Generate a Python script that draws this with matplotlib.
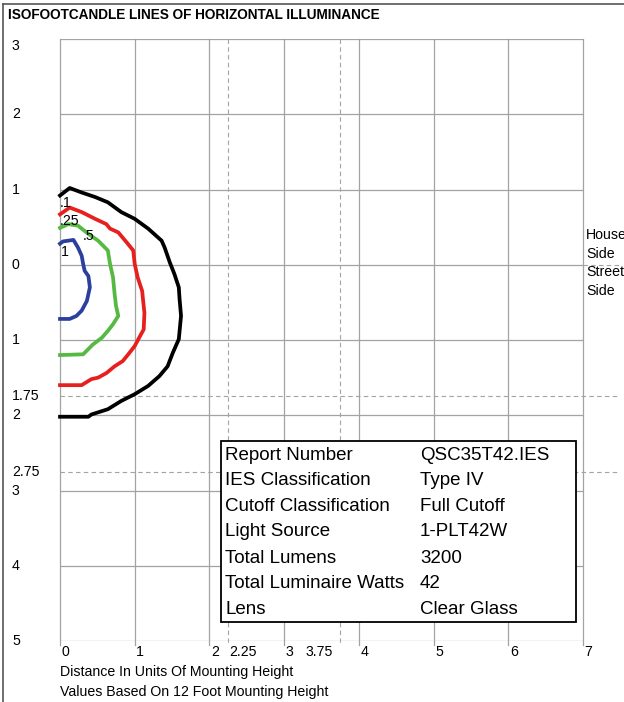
import matplotlib
matplotlib.use('Agg')
import matplotlib.pyplot as plt
from matplotlib.patches import Rectangle
from matplotlib.transforms import blended_transform_factory

plt.rcParams['font.family'] = ['Liberation Sans', 'DejaVu Sans']

# 등조도 곡선 데이터 (x: 거리, y: 위쪽이 House side(음수), 아래쪽이 Street side(양수))
black_x = [0, 0.13, 0.29, 0.47, 0.64, 0.82, 1.0, 1.18, 1.36, 1.40, 1.47, 1.53, 1.59, 1.60,
           1.62, 1.59, 1.51, 1.44, 1.33, 1.18, 1.0, 0.82, 0.64, 0.42, 0.38, 0]
black_y = [-0.92, -1.02, -0.96, -0.90, -0.83, -0.70, -0.61, -0.48, -0.32, -0.23, -0.03, 0.12,
           0.30, 0.45, 0.68, 0.99, 1.17, 1.35, 1.48, 1.61, 1.72, 1.81, 1.92, 1.99, 2.02, 2.02]
red_x = [0, 0.13, 0.29, 0.47, 0.62, 0.67, 0.78, 0.89, 0.98, 1.0, 1.04, 1.10, 1.11, 1.13,
         1.12, 1.07, 1.0, 0.93, 0.84, 0.73, 0.62, 0.51, 0.42, 0.29, 0]
red_y = [-0.67, -0.76, -0.70, -0.61, -0.54, -0.48, -0.43, -0.30, -0.19, -0.01, 0.17, 0.35,
         0.45, 0.64, 0.86, 0.95, 1.08, 1.17, 1.28, 1.35, 1.44, 1.50, 1.52, 1.60, 1.60]
green_x = [0, 0.11, 0.24, 0.38, 0.51, 0.64, 0.67, 0.71, 0.73, 0.75, 0.78, 0.71, 0.64, 0.56,
           0.44, 0.31, 0]
green_y = [-0.49, -0.54, -0.52, -0.41, -0.32, -0.19, -0.01, 0.17, 0.38, 0.55, 0.68, 0.79,
           0.88, 0.97, 1.06, 1.19, 1.20]
blue_x = [0, 0.04, 0.18, 0.24, 0.29, 0.31, 0.33, 0.38, 0.40, 0.36, 0.29, 0.22, 0.13, 0]
blue_y = [-0.28, -0.31, -0.33, -0.23, -0.12, -0.01, 0.08, 0.15, 0.30, 0.48, 0.61, 0.68,
          0.72, 0.72]

# 곡선 라벨 (값, 위치)
curve_labels = ['.1', '.25', '.5', '1']
curve_label_x = [0.0, 0.0, 0.30, 0.01]
curve_label_y = [-0.82, -0.58, -0.38, -0.17]

# 축 눈금
x_grid = [0, 1, 2, 3, 4, 5, 6, 7]
x_dash = [2.25, 3.75]
x_tick_vals = [0, 1, 2, 2.25, 3, 3.75, 4, 5, 6, 7]
x_tick_labels = ['0', '1', '2', '2.25', '3', '3.75', '4', '5', '6', '7']
y_grid = [-3, -2, -1, 0, 1, 2, 3, 4, 5]
y_dash = [1.75, 2.75]
y_tick_vals = [-3, -2, -1, 0, 1, 1.75, 2, 2.75, 3, 4, 5]
y_tick_labels = ['3', '2', '1', '0', '1', '1.75', '2', '2.75', '3', '4', '5']

# 정보 표
info_keys = ['Report Number', 'IES Classification', 'Cutoff Classification', 'Light Source',
             'Total Lumens', 'Total Luminaire Watts', 'Lens']
info_vals = ['QSC35T42.IES', 'Type IV', 'Full Cutoff', '1-PLT42W', '3200', '42', 'Clear Glass']
info_row_y = [2.54, 2.87, 3.21, 3.54, 3.91, 4.24, 4.58]

W, H = 624, 702
FS = 10.2
fig = plt.figure(figsize=(W / 100, H / 100), dpi=100)
ax = fig.add_axes([60 / W, 1 - 641 / H, 523 / W, 602 / H])
ax.set_xlim(0, 7)
ax.set_ylim(5, -3)
ax.set_xticks([])
ax.set_yticks([])
for s in ax.spines.values():
    s.set_visible(False)

grid_c = '#a3a3a3'
for gx in x_grid:
    ax.plot([gx, gx], [-3, 5.05], color=grid_c, lw=0.9, zorder=1, clip_on=False)
for gy in y_grid:
    ax.plot([0, 7], [gy, gy], color=grid_c, lw=0.9, zorder=1)
for gx in x_dash:
    ax.plot([gx, gx], [-3, 5.05], color=grid_c, lw=0.8, ls=(0, (4, 3)), zorder=1, clip_on=False)
for gy in y_dash:
    ax.plot([0, 7.5], [gy, gy], color=grid_c, lw=0.8, ls=(0, (4, 3)), zorder=1, clip_on=False)
# 0 선을 오른쪽으로 연장 (House/Street 경계)
ax.plot([7, 7.5], [0, 0], color=grid_c, lw=0.8, ls=(0, (4, 3)), zorder=1, clip_on=False)

# 등조도 곡선
ax.plot(black_x, black_y, color='black', lw=2.7, zorder=3, clip_on=False)
ax.plot(red_x, red_y, color='#e6201e', lw=2.7, zorder=3, clip_on=False)
ax.plot(green_x, green_y, color='#55b943', lw=2.7, zorder=3, clip_on=False)
ax.plot(blue_x, blue_y, color='#2b3f9f', lw=2.7, zorder=3, clip_on=False)

for lab, lx, ly in zip(curve_labels, curve_label_x, curve_label_y):
    ax.text(lx, ly, lab, fontsize=FS, ha='left', va='center', zorder=4)

# y축 라벨 (왼쪽 바깥)
ytr = blended_transform_factory(fig.transFigure, ax.transData)
for v, lab in zip(y_tick_vals, y_tick_labels):
    ax.text(12 / W, v, lab, transform=ytr, fontsize=FS, ha='left',
            va='top' if v == -3 else 'center', clip_on=False)

# x축 라벨
xtr = blended_transform_factory(ax.transData, fig.transFigure)
for v, lab in zip(x_tick_vals, x_tick_labels):
    if lab == '3.75':
        ax.text(v - 0.1, 1 - 652 / H, lab, transform=xtr, fontsize=FS, ha='right', va='center')
    else:
        ax.text(v + 0.02, 1 - 652 / H, lab, transform=xtr, fontsize=FS, ha='left', va='center')

fig.text(60 / W, 1 - 672 / H, 'Distance In Units Of Mounting Height', fontsize=FS,
         ha='left', va='center')
fig.text(60 / W, 1 - 692 / H, 'Values Based On 12 Foot Mounting Height', fontsize=FS,
         ha='left', va='center')

# 오른쪽 라벨
for txt, py in zip(['House', 'Side', 'Street', 'Side'], [235, 254, 272, 291]):
    fig.text(586 / W, 1 - py / H, txt, fontsize=FS, ha='left', va='center')

# 제목
fig.text(8 / W, 1 - 15 / H, 'ISOFOOTCANDLE LINES OF HORIZONTAL ILLUMINANCE', fontsize=9.8,
         fontweight='bold', ha='left', va='center')

# 정보 표
ax.add_patch(Rectangle((2.155, 2.34), 6.91 - 2.155, 4.75 - 2.34, facecolor='white',
                       edgecolor='black', lw=1.3, zorder=5))
for k, v, ry in zip(info_keys, info_vals, info_row_y):
    ax.text(2.21, ry, k, fontsize=13.5, ha='left', va='center', zorder=6)
    ax.text(4.82, ry, v, fontsize=13.5, ha='left', va='center', zorder=6)

# 그림 테두리 (왼쪽, 위)
fig.add_artist(plt.Line2D([3 / W, 3 / W], [0, 1 - 4 / H], color='#555555', lw=1.2))
fig.add_artist(plt.Line2D([3 / W, 1], [1 - 4 / H, 1 - 4 / H], color='#555555', lw=1.2))

fig.savefig('out.png', dpi=100)
